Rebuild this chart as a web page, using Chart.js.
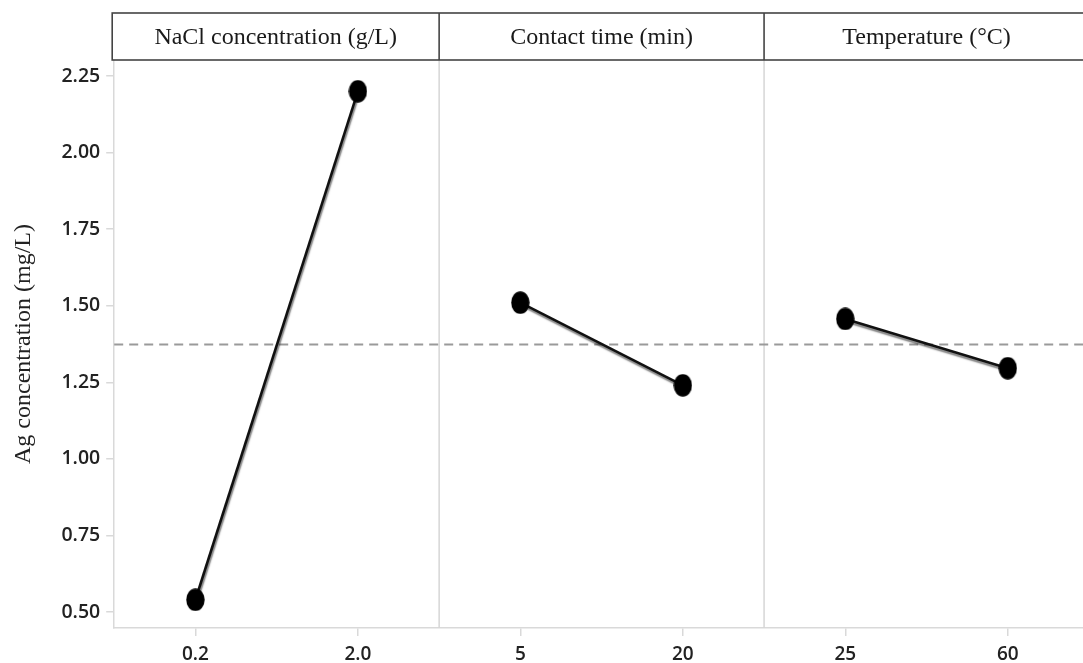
<!DOCTYPE html>
<html>
<head>
<meta charset="utf-8">
<script src="https://cdn.jsdelivr.net/npm/chart.js@4.4.1/dist/chart.umd.min.js"></script>
<style>
  html, body { margin: 0; padding: 0; background: #fff; overflow: hidden; }
  #wrap { width: 1100px; height: 663px; position: relative; }
  canvas { display: block; }
</style>
</head>
<body>
<div id="wrap"><canvas id="c" width="1100" height="663" style="width:1100px;height:663px"></canvas></div>
<script>
// ---- data ----
const categories = ['0.2', '2.0', '5', '20', '25', '60'];
const factorNames = ['NaCl concentration (g/L)', 'Contact time (min)', 'Temperature (°C)'];
const naclMeans = [0.54, 2.20];
const timeMeans = [1.51, 1.24];
const tempMeans = [1.457, 1.296];
const grandMean = 1.373;
const yTicks = [0.50, 0.75, 1.00, 1.25, 1.50, 1.75, 2.00, 2.25];
const yTitle = 'Ag concentration (mg/L)';

// ---- helpers ----
function toPoints(values, offset) {
  return values.map((v, i) => ({ x: categories[offset + i], y: v }));
}
const dot = document.createElement('canvas');
dot.width = 19; dot.height = 23;
(function () {
  const g = dot.getContext('2d');
  g.fillStyle = '#000';
  g.beginPath();
  g.ellipse(9.5, 11.5, 9.2, 11.2, 0, 0, Math.PI * 2);
  g.fill();
})();

const series = [naclMeans, timeMeans, tempMeans];
const datasets = [];
series.forEach((vals, k) => {
  datasets.push({
    data: toPoints(vals, k * 2), showLine: false, pointStyle: dot,
    pointRadius: 10, order: 0
  });
  datasets.push({
    data: toPoints(vals, k * 2), borderColor: '#111', borderWidth: 2.6,
    pointRadius: 0, shadow: true, order: 1
  });
});

const SERIF = '"Liberation Serif", "Times New Roman", serif';
const SANS = '"Open Sans", "Noto Sans", sans-serif';

const panelPlugin = {
  id: 'panels',
  beforeDatasetDraw(chart, args) {
    const ds = chart.data.datasets[args.index];
    if (ds.shadow) {
      const ctx = chart.ctx;
      ctx.save();
      ctx.shadowColor = 'rgba(0,0,0,0.5)';
      ctx.shadowOffsetX = 1;
      ctx.shadowOffsetY = 2.5;
      ctx.shadowBlur = 1.5;
    }
  },
  afterDatasetDraw(chart, args) {
    const ds = chart.data.datasets[args.index];
    if (ds.shadow) chart.ctx.restore();
  },
  beforeDatasetsDraw(chart) {
    const { ctx, chartArea: a, scales: { x, y } } = chart;
    ctx.save();
    ctx.strokeStyle = '#d6d6d6';
    ctx.lineWidth = 1.5;
    [1, 3].forEach(i => {
      const px = (x.getPixelForTick(i) + x.getPixelForTick(i + 1)) / 2;
      ctx.beginPath();
      ctx.moveTo(px, a.top);
      ctx.lineTo(px, a.bottom);
      ctx.stroke();
    });
    const py = y.getPixelForValue(grandMean);
    ctx.strokeStyle = '#9a9a9a';
    ctx.lineWidth = 2;
    ctx.setLineDash([9, 6]);
    ctx.beginPath();
    ctx.moveTo(a.left, py);
    ctx.lineTo(a.right, py);
    ctx.stroke();
    ctx.restore();
  },
  afterDraw(chart) {
    const { ctx, chartArea: a, scales: { x } } = chart;
    const top = 13, bottom = a.top;
    const left = a.left - 2, right = chart.width + 5;
    ctx.save();
    ctx.fillStyle = '#fff';
    ctx.fillRect(left, top, right - left, bottom - top);
    ctx.strokeStyle = '#444';
    ctx.lineWidth = 1.6;
    ctx.strokeRect(left, top, right - left, bottom - top);
    const edges = [left];
    [1, 3].forEach(i => edges.push((x.getPixelForTick(i) + x.getPixelForTick(i + 1)) / 2));
    edges.push(a.right);
    edges.slice(1, 3).forEach(px => {
      ctx.beginPath();
      ctx.moveTo(px, top);
      ctx.lineTo(px, bottom);
      ctx.stroke();
    });
    ctx.fillStyle = '#1a1a1a';
    ctx.font = '24px ' + SERIF;
    ctx.textAlign = 'center';
    ctx.textBaseline = 'middle';
    factorNames.forEach((name, i) => {
      ctx.fillText(name, (edges[i] + edges[i + 1]) / 2, (top + bottom) / 2 + 1);
    });
    ctx.restore();
  }
};

new Chart(document.getElementById('c'), {
  type: 'line',
  data: { labels: categories, datasets },
  plugins: [panelPlugin],
  options: {
    responsive: false,
    maintainAspectRatio: false,
    animation: false,
    devicePixelRatio: 1,
    layout: { padding: { top: 60, right: 6, left: 0, bottom: 0 } },
    plugins: { legend: { display: false }, tooltip: { enabled: false } },
    scales: {
      x: {
        type: 'category',
        offset: true,
        grid: { offset: false, drawOnChartArea: false, color: '#d9d9d9', lineWidth: 1.5, tickLength: 8 },
        border: { color: '#d9d9d9', width: 1.5 },
        ticks: { color: '#222', font: { family: SANS, size: 19, weight: '600' }, padding: 7, maxRotation: 0 },
        afterFit(s) { s.height = 35; }
      },
      y: {
        min: 0.4478,
        max: 2.3022,
        afterBuildTicks(s) { s.ticks = yTicks.map(v => ({ value: v })); },
        grid: { drawOnChartArea: false, color: '#d9d9d9', lineWidth: 1.5, tickLength: 8 },
        border: { color: '#d9d9d9', width: 1.5 },
        ticks: {
          color: '#222', font: { family: SANS, size: 19.5, weight: '600' }, padding: 6,
          callback: v => Number(v).toFixed(2)
        },
        title: {
          display: true, text: yTitle, color: '#222',
          font: { family: SERIF, size: 24 }, padding: { top: 9, bottom: 0 }
        },
        afterFit(s) { s.width = 114.2; }
      }
    }
  }
});
</script>
</body>
</html>
